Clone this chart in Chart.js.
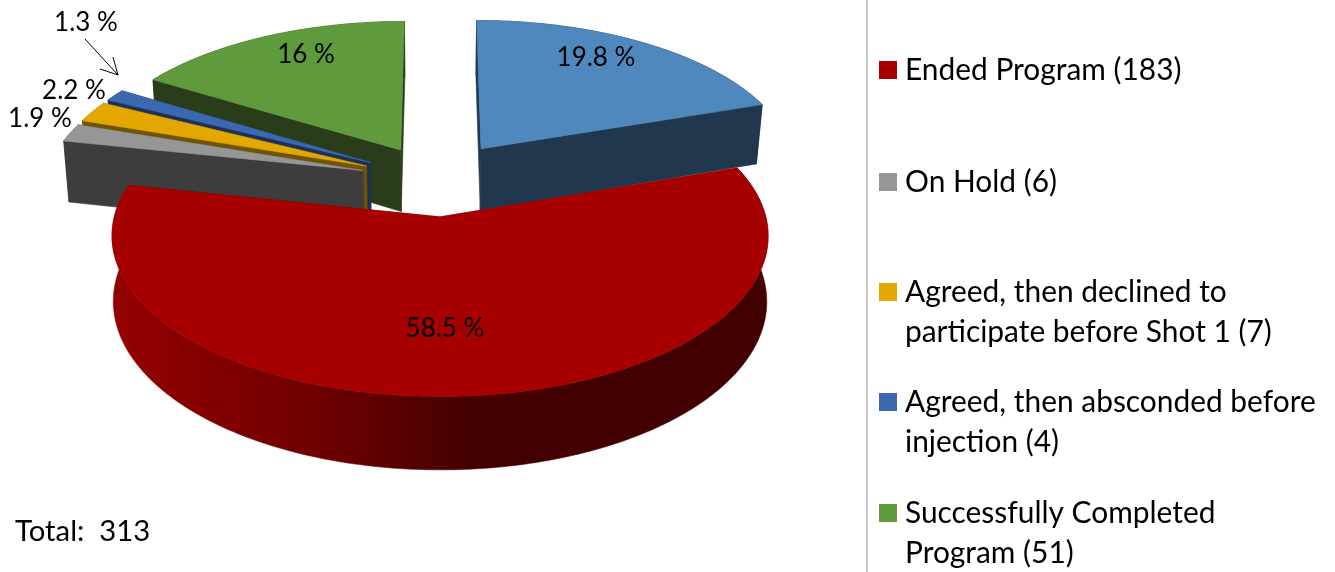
<!DOCTYPE html>
<html>
<head>
<meta charset="utf-8">
<script src="https://cdn.jsdelivr.net/npm/chart.js@4"></script>
<style>html,body{margin:0;padding:0;background:#fff}canvas{display:block}</style>
</head>
<body>
<canvas id="c" width="1335" height="572"></canvas>
<script>
// --- data ---
const categories = ['Ended Program', 'On Hold', 'Agreed, then declined to participate before Shot 1', 'Agreed, then absconded before injection', 'Successfully Completed Program', 'Unlabelled'];
const counts = [183, 6, 7, 4, 51, 62];
const percentLabels = ['58.5 %', '1.9 %', '2.2 %', '1.3 %', '16 %', '19.8 %'];
const legendLines = [
  ['Ended Program (183)'],
  ['On Hold (6)'],
  ['Agreed, then declined to', 'participate before Shot 1 (7)'],
  ['Agreed, then absconded before', 'injection (4)'],
  ['Successfully Completed', 'Program (51)']
];
const totalLabel = 'Total:  313';

// --- styling ---
const topColors  = ['#A60000', '#969696', '#E2A800', '#3C68B0', '#5F9A3C', '#4F88BC'];
const sideColors = ['#5a0000', '#3D3D3D', '#705400', '#1C3058', '#2A3D1A', '#21374D'];
const explode    = [74, 78, 78, 78, 77, 80];
const nudge      = [[-2, 0], [0, -2], [0, -2], [0, -2], [0, 0], [-2, -5]];
const taper      = [0.004, 0.014, 0.014, 0.014, 0.014, 0.018];
const labelAt    = [[445,329],[40,119],[74,91],[86,23],[306,55],[596,58]];
const legendRows = [[70],[182],[292,332],[402,442],[513,553]];
const FONT = 'Lato, "Open Sans", sans-serif';
const view = {tilt: 0.473, persp: 0.115, height: 63};

const pie3d = {
  id: 'pie3d',
  beforeDatasetsDraw(chart) {
    const ctx = chart.ctx, arcs = chart.getDatasetMeta(0).data;
    const R = arcs[0].outerRadius, cx = arcs[0].x, cy = arcs[0].y;
    const fill = (pts, color) => {
      ctx.beginPath();
      pts.forEach((p, i) => i ? ctx.lineTo(p[0], p[1]) : ctx.moveTo(p[0], p[1]));
      ctx.closePath();
      ctx.fillStyle = color;
      ctx.fill();
      ctx.strokeStyle = color;
      ctx.lineWidth = 0.6;
      ctx.stroke();
    };
    const order = [5, 4, 3, 2, 1, 0];
    order.forEach(i => {
      const P = (u, v, z) => {
        const w = 1 - view.persp * v / R;
        return [cx + (u / w) * (1 - taper[i] * z), cy + view.tilt * v / w + view.height * z / w];
      };
      const el = arcs[i], a0 = el.startAngle, a1 = el.endAngle, mid = (a0 + a1) / 2;
      const ox = explode[i] * Math.cos(mid) + nudge[i][0], oy = explode[i] * Math.sin(mid) + nudge[i][1];
      const rim = [];
      const n = Math.max(2, Math.ceil((a1 - a0) * 90));
      for (let k = 0; k <= n; k++) {
        const a = a0 + (a1 - a0) * k / n;
        rim.push([ox + R * Math.cos(a), oy + R * Math.sin(a)]);
      }
      const outer = () => {
        const top = rim.map(p => P(p[0], p[1], 0));
        const bot = rim.map(p => P(p[0], p[1], 1)).reverse();
        let color = sideColors[i];
        if (i === 0) {
          const g = ctx.createLinearGradient(113, 0, 769, 0);
          g.addColorStop(0, '#950000');
          g.addColorStop(0.3, '#700000');
          g.addColorStop(0.55, '#440000');
          g.addColorStop(1, '#430000');
          color = g;
        }
        fill(top.concat(bot), color);
      };
      const wall = p => fill([P(ox, oy, 0), P(p[0], p[1], 0), P(p[0], p[1], 1), P(ox, oy, 1)], sideColors[i]);
      const front = Math.sin(mid) > 0.3;
      if (!front) outer();
      wall(rim[0]);
      wall(rim[rim.length - 1]);
      if (front) outer();
      fill([P(ox, oy, 0)].concat(rim.map(p => P(p[0], p[1], 0))), topColors[i]);
    });
    return false;
  },
  afterDraw(chart) {
    const ctx = chart.ctx;
    ctx.save();
    ctx.textBaseline = 'middle';
    ctx.fillStyle = '#000';
    // percentage labels
    ctx.font = '26px ' + FONT;
    ctx.textAlign = 'center';
    percentLabels.forEach((t, i) => ctx.fillText(t, labelAt[i][0], labelAt[i][1]));
    // leader arrow
    ctx.strokeStyle = '#000';
    ctx.lineWidth = 1;
    ctx.beginPath();
    ctx.moveTo(85, 39); ctx.lineTo(118, 75);
    ctx.moveTo(113, 57); ctx.lineTo(118, 75); ctx.lineTo(100, 69);
    ctx.stroke();
    // divider
    ctx.fillStyle = '#c9c9c9';
    ctx.fillRect(866, 0, 2, 572);
    // legend
    ctx.textAlign = 'left';
    ctx.font = '29.9px ' + FONT;
    legendLines.forEach((lines, i) => {
      ctx.fillStyle = topColors[i];
      ctx.fillRect(879, legendRows[i][0] - 9, 18, 18);
      ctx.fillStyle = '#000';
      lines.forEach((t, j) => ctx.fillText(t, 905, legendRows[i][j]));
    });
    ctx.font = '29.3px ' + FONT;
    ctx.fillText(totalLabel, 15, 532);
    ctx.restore();
  }
};

new Chart(document.getElementById('c'), {
  type: 'pie',
  data: {
    labels: categories,
    datasets: [{data: counts, backgroundColor: topColors, borderWidth: 0, radius: 317}]
  },
  options: {
    responsive: false,
    animation: false,
    radius: 317,
    rotation: 360 * 62 / 313,
    layout: {padding: {left: 0, top: 0, right: 460, bottom: 210}},
    plugins: {legend: {display: false}, tooltip: {enabled: false}}
  },
  plugins: [pie3d]
});
</script>
</body>
</html>
